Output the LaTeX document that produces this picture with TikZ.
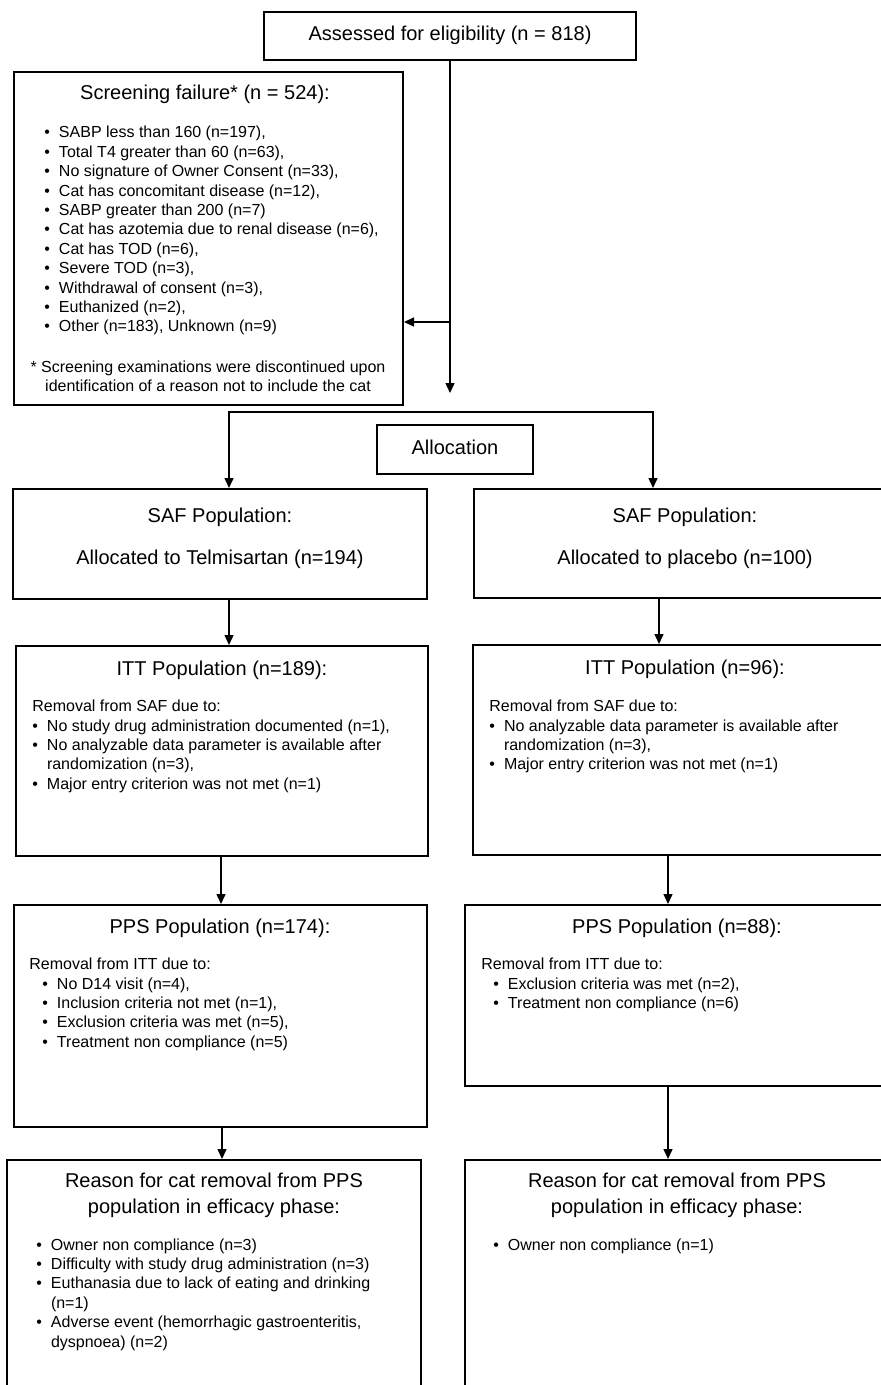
\documentclass[tikz,border=0pt]{standalone}
\usepackage{fontspec}
\setmainfont{Liberation Sans}
\usetikzlibrary{arrows.meta,fit}

\newcommand\itm{\textbullet &}
\newcommand\reasons[1]{\begin{tabular}[t]{@{}l@{\hspace{4.5pt}}l@{}}#1\end{tabular}}
\newcommand\twolines[1]{\begin{tabular}[t]{@{}c@{}}#1\end{tabular}}

\begin{document}
\begin{tikzpicture}[x=0.5pt, y=-0.5pt,
    box/.style={draw, line width=1pt, inner sep=0pt},
    head/.style={anchor=base, inner sep=0pt, font=\fontsize{10}{13}\selectfont},
    small/.style={anchor=base west, inner sep=0pt, font=\fontsize{8}{9.7}\selectfont},
    tip/.tip={Triangle[length=5pt,width=4.5pt]},
    arr/.style={line width=0.7pt, -tip}]

    \useasboundingbox (0,0) rectangle (881,1385);
    \clip (0,0) rectangle (881,1385);

    % boxes
    \node[box, fit={(264,12) (636,60)}] (assess) {};
    \node[box, fit={(14,72) (403,405)}] (screen) {};
    \node[box, fit={(377,425) (533,474)}] (alloc) {};
    \node[box, fit={(13,489) (427,599)}] (safL) {};
    \node[box, fit={(474,489) (896,598)}] (safR) {};
    \node[box, fit={(16,646) (428,856)}] (ittL) {};
    \node[box, fit={(473,645) (897,855)}] (ittR) {};
    \node[box, fit={(14,905) (427,1127)}] (ppsL) {};
    \node[box, fit={(465,905) (889,1086)}] (ppsR) {};
    \node[box, fit={(7,1160) (421,1420)}] (reasL) {};
    \node[box, fit={(465,1160) (889,1420)}] (reasR) {};

    \node[head] (assessT) at (450,41) {Assessed for eligibility (n = 818)};
    \node[head] (allocT) at (455,454) {Allocation};

    % screening failure
    \node[head] (screenT) at (205,100) {Screening failure* (n = 524):};
    \node[small] (screenL) at (44,138) {\reasons{
        \itm SABP less than 160 (n=197), \\
        \itm Total T4 greater than 60 (n=63), \\
        \itm No signature of Owner Consent (n=33), \\
        \itm Cat has concomitant disease (n=12), \\
        \itm SABP greater than 200 (n=7) \\
        \itm Cat has azotemia due to renal disease (n=6), \\
        \itm Cat has TOD (n=6), \\
        \itm Severe TOD (n=3), \\
        \itm Withdrawal of consent (n=3), \\
        \itm Euthanized (n=2), \\
        \itm Other (n=183), Unknown (n=9)}};
    \node[small, anchor=base] (screenN) at (208,372) {\twolines{%
        * Screening examinations were discontinued upon\\
        identification of a reason not to include the cat}};

    % SAF
    \node[head] (safLT) at (220,522) {SAF Population:};
    \node[head] (safLA) at (220,564) {Allocated to Telmisartan (n=194)};
    \node[head] (safRT) at (685,522) {SAF Population:};
    \node[head] (safRA) at (685,564) {Allocated to placebo (n=100)};

    % ITT
    \node[head] (ittLT) at (222,675) {ITT Population (n=189):};
    \node[small] (ittLR) at (32,711) {Removal from SAF due to:};
    \node[small] (ittLL) at (32,731) {\reasons{
        \itm No study drug administration documented (n=1), \\
        \itm No analyzable data parameter is available after \\
        & randomization (n=3), \\
        \itm Major entry criterion was not met (n=1)}};
    \node[head] (ittRT) at (685,674) {ITT Population (n=96):};
    \node[small] (ittRR) at (489,711) {Removal from SAF due to:};
    \node[small] (ittRL) at (489,731) {\reasons{
        \itm No analyzable data parameter is available after \\
        & randomization (n=3), \\
        \itm Major entry criterion was not met (n=1)}};

    % PPS
    \node[head] (ppsLT) at (220,933) {PPS Population (n=174):};
    \node[small] (ppsLR) at (29,969) {Removal from ITT due to:};
    \node[small] (ppsLL) at (42,989) {\reasons{
        \itm No D14 visit (n=4), \\
        \itm Inclusion criteria not met (n=1), \\
        \itm Exclusion criteria was met (n=5), \\
        \itm Treatment non compliance (n=5)}};
    \node[head] (ppsRT) at (677,933) {PPS Population (n=88):};
    \node[small] (ppsRR) at (481,969) {Removal from ITT due to:};
    \node[small] (ppsRL) at (493,989) {\reasons{
        \itm Exclusion criteria was met (n=2), \\
        \itm Treatment non compliance (n=6)}};

    % efficacy phase
    \node[head] (reasLT) at (214,1187) {\twolines{Reason for cat removal from PPS\\population in efficacy phase:}};
    \node[small] (reasLL) at (36,1250) {\reasons{
        \itm Owner non compliance (n=3) \\
        \itm Difficulty with study drug administration (n=3) \\
        \itm Euthanasia due to lack of eating and drinking \\
        & (n=1) \\
        \itm Adverse event (hemorrhagic gastroenteritis, \\
        & dyspnoea) (n=2)}};
    \node[head] (reasRT) at (677,1187) {\twolines{Reason for cat removal from PPS\\population in efficacy phase:}};
    \node[small] (reasRL) at (493,1250) {\reasons{
        \itm Owner non compliance (n=1)}};

    % assessed down, side branch to screening failure
    \coordinate (branch) at (450,322);
    \coordinate (stop) at (450,393);
    \draw[arr] (assess) -- (stop);
    \draw[arr] (branch) -- (branch -| screen.east);

    % split to both arms
    \coordinate (splitL) at (229,412);
    \coordinate (splitR) at (653,412);
    \draw[line width=0.7pt, tip-tip] (splitL |- safL.north) -- (splitL) -- (splitR) -- (splitR |- safR.north);

    % down each arm
    \foreach \a/\b/\x in {safL/ittL/229, safR/ittR/659, ittL/ppsL/221,
                          ittR/ppsR/668, ppsL/reasL/222, ppsR/reasR/668} {
        \coordinate (col) at (\x,0);
        \draw[arr] (\a.south -| col) -- (\b.north -| col);
    }
\end{tikzpicture}
\end{document}
